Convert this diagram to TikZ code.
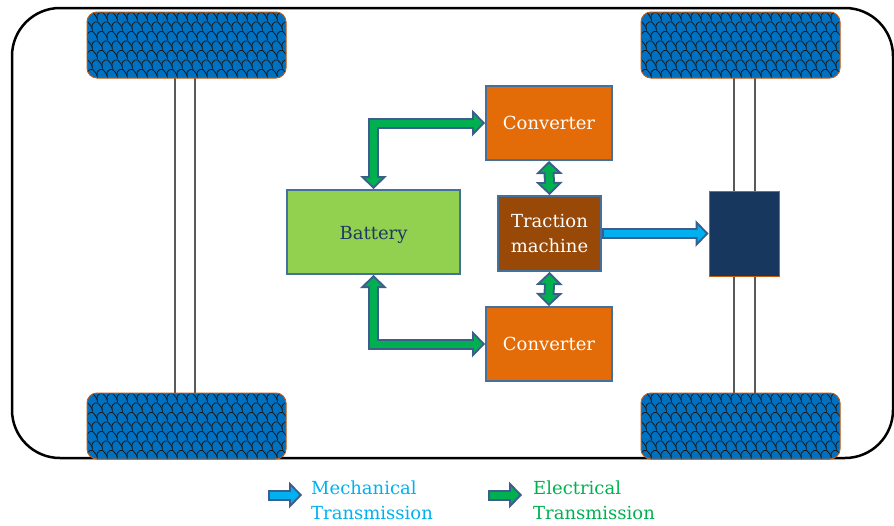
\documentclass[tikz,border=0pt]{standalone}
\usepackage{fontspec}
\setmainfont{DejaVu Serif}
\usetikzlibrary{arrows.meta}

\definecolor{tyreblue}{HTML}{0070C0}
\definecolor{rimorange}{HTML}{C55A11}
\definecolor{convorange}{HTML}{E36C09}
\definecolor{tracbrown}{HTML}{984807}
\definecolor{batgreen}{HTML}{92D050}
\definecolor{edgeblue}{HTML}{41719C}
\definecolor{arrowedge}{HTML}{3B5E8C}
\definecolor{diffnavy}{HTML}{17375E}
\definecolor{elecgreen}{HTML}{00B050}
\definecolor{mechblue}{HTML}{00B0F0}
\definecolor{axlegray}{HTML}{595959}
\definecolor{batnavy}{HTML}{1F3864}

\tikzset{
  x=1pt, y=-1pt,
  box/.style={draw=edgeblue, line width=2pt, inner sep=0pt, align=center,
    font=\fontsize{18}{25}\selectfont},
  body/.style={draw=black, line width=2.5pt, rounded corners=48pt},
  axle/.style={draw=axlegray, line width=1.5pt},
  scaleline/.style={draw=black!90, line width=0.8pt, line join=round},
  rim/.style={draw=rimorange, line width=1pt, rounded corners=10pt},
  outertip/.tip={Triangle[length=13pt,width=27pt,line width=0pt]},
  innertip/.tip={Triangle[length=8.2pt,width=17pt,line width=0pt]},
  % block arrow with two heads: dark outline drawn first, coloured core on top
  twohead/.style={
    preaction={draw=arrowedge, line width=11pt, line join=miter,
      shorten <=0pt, shorten >=0pt, outertip-outertip},
    draw=#1, line width=7pt, line join=miter,
    shorten <=2.8pt, shorten >=2.8pt, innertip-innertip},
  onehead/.style={
    preaction={draw=arrowedge, line width=11pt, line join=miter,
      shorten <=0pt, shorten >=0pt, -outertip},
    draw=#1, line width=7pt, line join=miter,
    shorten <=2pt, shorten >=2.8pt, -innertip},
  legendtext/.style={anchor=west, align=left, inner sep=0pt,
    font=\fontsize{18}{25}\selectfont},
}

\begin{document}
\begin{tikzpicture}
\useasboundingbox (0,0) rectangle (894,525);

% vehicle outline
\draw[body] (12,8) rectangle (893,458);

% axles
\draw[axle] (175,78) -- (175,393);
\draw[axle] (195,78) -- (195,393);
\draw[axle] (734,78) -- (734,393);
\draw[axle] (755,78) -- (755,393);

% tyres with a scale tread
\foreach \tx/\ty in {87/12,641/12,87/393,641/393}{
  \begin{scope}[shift={(\tx,\ty)}]
    \fill[tyreblue, rounded corners=10pt] (0,0) rectangle (199,66);
    \begin{scope}
      \clip[rounded corners=10pt] (0,0) rectangle (199,66);
      \foreach \r in {0,...,7}{
        \foreach \c [evaluate=\c as \xx using {\c*10+mod(\r,2)*5},
                     evaluate=\c as \yy using {\r*9.5+5}] in {-1,...,20}{
          \draw[scaleline] (\xx,\yy+2) .. controls (\xx-1,\yy-5) and (\xx+6,\yy-7)
            .. (\xx+8,\yy-2) -- (\xx+10,\yy+1) -- (\xx+10.5,\yy+4);
        }
      }
    \end{scope}
    \draw[rim] (0,0) rectangle (199,66);
  \end{scope}
}

% components
\node[box, fill=batgreen, text=batnavy, minimum width=173pt, minimum height=84pt]
  (bat) at (373.5,232) {\raisebox{-3pt}[\height][\depth]{Battery}};
\node[box, fill=convorange, text=white, minimum width=126pt, minimum height=74pt]
  (convA) at (549,123) {Converter};
\node[box, fill=convorange, text=white, minimum width=126pt, minimum height=74pt]
  (convB) at (549,344) {Converter};
\node[box, fill=tracbrown, text=white, minimum width=103pt, minimum height=75pt]
  (trac) at (549.5,233.5) {Traction\\machine};
\node[draw=rimorange, line width=1pt, fill=diffnavy, inner sep=0pt,
  minimum width=70pt, minimum height=85pt] (diff) at (744,233.5) {};

% electrical links
\draw[twohead=elecgreen] (bat.north) |- (convA.west);
\draw[twohead=elecgreen] (bat.south) |- (convB.west);
\draw[twohead=elecgreen] (convA.south) -- (trac.north);
\draw[twohead=elecgreen] (trac.south) -- (convB.north);

% mechanical link
\draw[onehead=mechblue] (trac.east) -- (diff.west);

% legend
\coordinate (mechA) at (268,495);
\coordinate (mechB) at (302,495);
\coordinate (elecA) at (488,495);
\coordinate (elecB) at (522,495);
\draw[onehead=mechblue] (mechA) -- (mechB);
\draw[onehead=elecgreen] (elecA) -- (elecB);
\node[legendtext, text=mechblue] (mechlbl) at (311,500) {Mechanical\\Transmission};
\node[legendtext, text=elecgreen] (eleclbl) at (533,500) {Electrical\\Transmission};
\end{tikzpicture}
\end{document}
